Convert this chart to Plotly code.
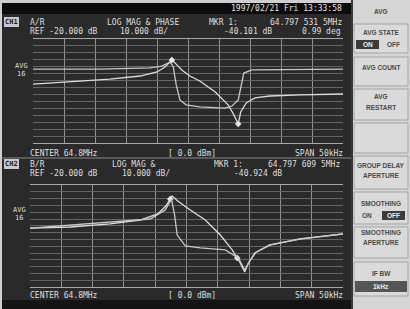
import plotly.graph_objects as go
import numpy as np

W, H = 410, 309

# ---------------- data (frequency offset from 64.8 MHz in kHz) ----------------
ch1_mag_f = [-25.0, -19.0, -12.6, -7.7, -5.0, -3.7, -2.9, -2.6, -2.1, -1.0, 0.3, 1.9, 4.4, 6.5, 7.4, 8.1, 8.5, 9.4, 10.8, 13.2, 18.1, 25.0]
ch1_mag_db = [-63.3, -61.3, -58.5, -55.6, -51.7, -46.9, -42.1, -40.1, -43.0, -49.8, -55.6, -60.4, -71.0, -83.5, -93.0, -101.7, -90.2, -81.5, -76.7, -74.8, -73.8, -72.9]
ch1_ph_f = [-25.0, -14.2, -6.1, -4.2, -2.9, -2.4, -1.9, -1.3, -0.3, 1.9, 5.9, 7.1, 8.1, 8.6, 9.0, 10.3, 25.0]
ch1_ph_deg = [76, 76, 80, 86, 100, 86, 21, -31, -48, -55, -59, -52, -31, 21, 62, 73, 76]

ch2_mag_f = [-25.0, -18.6, -12.2, -7.4, -4.6, -3.3, -2.3, -1.4, 0.6, 3.0, 5.4, 7.3, 8.5, 9.3, 9.8, 10.9, 13.3, 18.1, 25.0]
ch2_mag_db = [-62.2, -61.2, -58.2, -54.3, -48.4, -40.6, -30.8, -35.7, -44.5, -54.3, -69.0, -83.7, -95.5, -105.3, -97.5, -86.7, -78.8, -72.9, -68.0]
ch2_ph_f = [-25.0, -5.8, -3.4, -2.4, -1.9, -1.5, -0.2, 2.2, 6.2, 8.3, 9.3, 10.0, 11.1, 13.3, 18.1, 25.0]
ch2_ph_deg = [28, 60, 92, 131, 74, 4, -35, -42, -49, -78, -120, -92, -57, -32, -11, 7]

mkr_f = [-2.6, 8.1]

x_ticks_khz = [-25, -20, -15, -10, -5, 0, 5, 10, 15, 20, 25]

# ---------------- helpers ----------------
def px(x):
    return x / W

def py(y):
    return 1 - y / H

SCREEN = "#2a2a2a"
GRID = "#929292"
HGRID = "#646464"
TXT = "#dedede"
MONO = "DejaVu Sans Mono"

fig = go.Figure()

fig.add_trace(go.Scatter(x=ch1_mag_f, y=ch1_mag_db, mode="lines", xaxis="x", yaxis="y",
                         line=dict(color="#dcdcdc", width=1.3), showlegend=False))
fig.add_trace(go.Scatter(x=ch1_ph_f, y=ch1_ph_deg, mode="lines", xaxis="x", yaxis="y3",
                         line=dict(color="#c8c8c8", width=1.3), showlegend=False))
fig.add_trace(go.Scatter(x=ch2_mag_f, y=ch2_mag_db, mode="lines", xaxis="x2", yaxis="y2",
                         line=dict(color="#dcdcdc", width=1.3), showlegend=False))
fig.add_trace(go.Scatter(x=ch2_ph_f, y=ch2_ph_deg, mode="lines", xaxis="x2", yaxis="y4",
                         line=dict(color="#c8c8c8", width=1.3), showlegend=False))

m1 = np.interp(mkr_f, ch1_mag_f, ch1_mag_db)
m2 = np.interp(mkr_f, ch2_mag_f, ch2_mag_db)
fig.add_trace(go.Scatter(x=mkr_f, y=m1, mode="markers", xaxis="x", yaxis="y",
                         marker=dict(symbol="diamond", size=5, color="#e8e8e8"), showlegend=False))
fig.add_trace(go.Scatter(x=mkr_f, y=m2, mode="markers", xaxis="x2", yaxis="y2",
                         marker=dict(symbol="diamond", size=5, color="#e8e8e8"), showlegend=False))

xa = dict(range=[-25, 25], tickvals=x_ticks_khz, showgrid=True, gridcolor=GRID, gridwidth=1,
          showticklabels=False, ticks="", zeroline=False, showline=True, linecolor="#a8a8a8",
          linewidth=1, mirror=True, fixedrange=True)
ya = dict(range=[-120, -20], showgrid=False, showticklabels=False, ticks="", zeroline=False,
          showline=False, fixedrange=True)
pa = dict(range=[-180, 180], tick0=-180, dtick=24, showgrid=True, gridcolor=HGRID, gridwidth=1,
          showticklabels=False, ticks="", zeroline=False, showline=False, fixedrange=True)

fig.update_layout(
    width=W, height=H, margin=dict(l=0, r=0, t=0, b=0),
    paper_bgcolor="#cfcfcf", plot_bgcolor="rgba(0,0,0,0)",
    xaxis=dict(xa, domain=[px(33), px(343)], anchor="y"),
    yaxis=dict(ya, domain=[py(143), py(39)], anchor="x"),
    yaxis3=dict(pa, domain=[py(143), py(39)], anchor="x", overlaying="y"),
    xaxis2=dict(xa, domain=[px(30), px(343)], anchor="y2"),
    yaxis2=dict(ya, domain=[py(287), py(185)], anchor="x2"),
    yaxis4=dict(pa, domain=[py(287), py(185)], anchor="x2", overlaying="y2"),
    showlegend=False,
)

shapes = []
def rect(x0, y0, x1, y1, fill, line=None, lw=0, layer="below"):
    shapes.append(dict(type="rect", xref="paper", yref="paper", x0=px(x0), x1=px(x1),
                       y0=py(y1), y1=py(y0), fillcolor=fill,
                       line=dict(color=line or fill, width=lw), layer=layer))

# screen
rect(2, 3, 352, 309, SCREEN)
rect(2, 3, 352, 14, "#0c0c0c")
rect(2, 300, 352, 309, "#141414")
shapes.append(dict(type="line", xref="paper", yref="paper", x0=px(2), x1=px(352), y0=py(158), y1=py(158),
                   line=dict(color="#6a6a6a", width=1.5), layer="below"))
rect(4, 17, 19, 27, "#c8c8c8", layer="above")
rect(4, 159, 19, 169, "#c8c8c8", layer="above")

# softkey panel
rect(352, 0, 410, 309, "#d6d6d6")
shapes.append(dict(type="line", xref="paper", yref="paper", x0=px(352), x1=px(352), y0=0, y1=1,
                   line=dict(color="#3a3a3a", width=2), layer="below"))
for (a, b) in [(24, 53), (57, 86), (89, 120), (123, 153), (156, 189), (192, 224), (227, 258), (262, 296)]:
    rect(354, a, 408, b, "#dadada", line="#a4a4a4", lw=1)
rect(356, 40, 379, 49, "#3c3c3c", layer="above")
rect(382, 211, 405, 220, "#3c3c3c", layer="above")
rect(355, 281, 407, 292, "#555555", layer="above")

fig.update_layout(shapes=shapes)

ann = []
def text(s, x, y, color=TXT, size=8, anchor="left", font=MONO, bold=False):
    if bold:
        s = "<b>" + s + "</b>"
    ann.append(dict(text=s, x=px(x), y=py(y), xref="paper", yref="paper", xanchor=anchor,
                    yanchor="middle", showarrow=False, font=dict(family=font, size=size, color=color)))

text("1997/02/21 Fri 13:33:58", 229, 9, color="#e6e6e6", size=8)

text("CH1", 11.5, 22, color="#222222", size=7, anchor="center", bold=True)
text("A/R", 28, 22)
text("LOG MAG & PHASE", 105, 22)
text("MKR 1:", 207, 22)
text("64.797 531 5MHz", 268, 22)
text("REF -20.000 dB", 28, 32)
text("10.000 dB/", 118, 32)
text("-40.101 dB", 222, 32)
text("0.99 deg", 300, 32)
text("AVG", 13, 66, size=7)
text("16", 15, 74, size=7)
text("CENTER 64.8MHz", 28, 153)
text("[ 0.0 dBm]", 166, 153)
text("SPAN 50kHz", 293, 153)

text("CH2", 11.5, 164, color="#222222", size=7, anchor="center", bold=True)
text("B/R", 28, 164)
text("LOG MAG &", 110, 164)
text("MKR 1:", 212, 164)
text("64.797 609 5MHz", 266, 164)
text("REF -20.000 dB", 28, 173)
text("10.000 dB/", 120, 173)
text("-40.924 dB", 232, 173)
text("AVG", 11, 210, size=7)
text("16", 13, 218, size=7)
text("CENTER 64.8MHz", 28, 295)
text("[ 0.0 dBm]", 166, 295)
text("SPAN 50kHz", 293, 295)

SK = "#4a4a4a"
SF = "Liberation Sans"
FS = 6.5
for s, yy in [("AVG", 11), ("AVG STATE", 33), ("AVG COUNT", 67), ("AVG", 97), ("RESTART", 107),
              ("GROUP DELAY", 165), ("APERTURE", 175), ("SMOOTHING", 203), ("SMOOTHING", 232),
              ("APERTURE", 242), ("IF BW", 273)]:
    text(s, 381, yy, color=SK, size=FS, anchor="center", font=SF, bold=True)
text("ON", 367.5, 44.5, color="#f0f0f0", size=FS, anchor="center", font=SF, bold=True)
text("OFF", 393, 44.5, color=SK, size=FS, anchor="center", font=SF, bold=True)
text("ON", 367, 215.5, color=SK, size=FS, anchor="center", font=SF, bold=True)
text("OFF", 393.5, 215.5, color="#f0f0f0", size=FS, anchor="center", font=SF, bold=True)
text("1kHz", 381, 286.5, color="#f0f0f0", size=FS, anchor="center", font=SF, bold=True)

fig.update_layout(annotations=ann)

fig.write_html("out.html", config={"displayModeBar": False, "staticPlot": True},
               post_script="document.body.style.margin='0';document.body.style.overflow='hidden';")
